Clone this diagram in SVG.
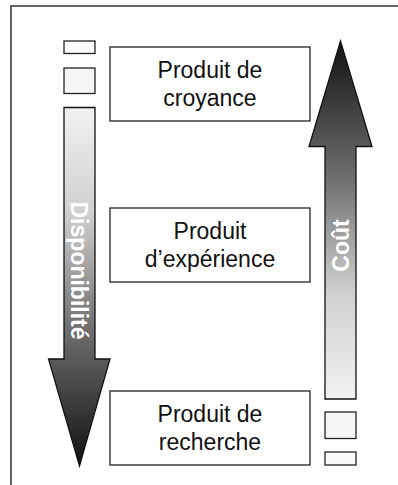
<svg xmlns="http://www.w3.org/2000/svg" width="398" height="485" viewBox="0 0 398 485">
<style>
.box{fill:#fff;stroke:#222;stroke-width:1.3}
.sm{stroke:#222;stroke-width:1.3}
.arr{stroke:#111;stroke-width:1.3;stroke-linejoin:miter}
.t{font-family:"Liberation Sans",Arial,sans-serif;font-size:23px;fill:#111;text-anchor:middle}
.w{font-family:"Liberation Sans",Arial,sans-serif;font-size:23px;font-weight:bold;fill:#fff;text-anchor:middle}
</style>
<defs>
<linearGradient id="gdown" gradientUnits="userSpaceOnUse" x1="0" y1="107" x2="0" y2="466">
<stop offset="0" stop-color="#f2f2f2"/>
<stop offset="0.3" stop-color="#cfcfcf"/>
<stop offset="0.62" stop-color="#6e6e6e"/>
<stop offset="1" stop-color="#111"/>
</linearGradient>
<linearGradient id="gup" gradientUnits="userSpaceOnUse" x1="0" y1="399" x2="0" y2="41">
<stop offset="0" stop-color="#f2f2f2"/>
<stop offset="0.3" stop-color="#cfcfcf"/>
<stop offset="0.62" stop-color="#6e6e6e"/>
<stop offset="1" stop-color="#111"/>
</linearGradient>
</defs>
<g id="frame" fill="none" stroke="#333" stroke-width="1.5">
<path d="M11 485 V6 H398"/>
</g>
<g id="connectors">
<g id="arrow-disponibilite">
<rect class="sm" x="64" y="41" width="31" height="12.5" fill="#fafafa"/>
<rect class="sm" x="64" y="68" width="31" height="25.5" fill="#f6f6f6"/>
<path class="arr" fill="url(#gdown)" d="M64 107.5 H95 V359 H110 L79.5 466 L48.5 359 H64 Z"/>
<text class="w" transform="translate(71 270.5) rotate(90)">Disponibilité</text>
</g>
<g id="arrow-cout">
<rect class="sm" x="325" y="452" width="31" height="13" fill="#fafafa"/>
<rect class="sm" x="325" y="412" width="31" height="26.5" fill="#f6f6f6"/>
<path class="arr" fill="url(#gup)" d="M325 399 H356 V146.5 H372 L340.5 41 L309 146.5 H325 Z"/>
<text class="w" transform="translate(349 245.5) rotate(-90)">Coût</text>
</g>
</g>
<g id="node-croyance">
<rect class="box" x="110" y="47" width="200" height="74"/>
<text class="t" x="210" y="78">Produit de</text>
<text class="t" x="210" y="105.5">croyance</text>
</g>
<g id="node-experience">
<rect class="box" x="110" y="208" width="200" height="74"/>
<text class="t" x="210" y="239">Produit</text>
<text class="t" x="210" y="266.5">d’expérience</text>
</g>
<g id="node-recherche">
<rect class="box" x="110" y="391" width="200" height="74"/>
<text class="t" x="210" y="422">Produit de</text>
<text class="t" x="210" y="449.5">recherche</text>
</g>
</svg>
